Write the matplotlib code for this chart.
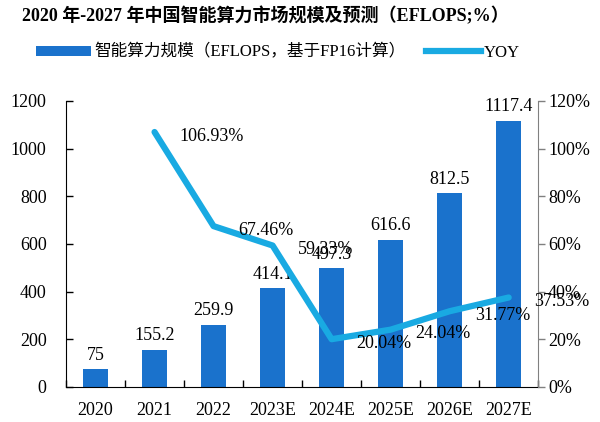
import matplotlib
matplotlib.use("Agg")
import matplotlib.pyplot as plt
from matplotlib.patches import Patch
from matplotlib.lines import Line2D
from matplotlib.ticker import FuncFormatter, FixedLocator
import numpy as np

plt.rcParams['font.family'] = ['Liberation Serif', 'Noto Sans CJK SC', 'DejaVu Sans']

years = ["2020", "2021", "2022", "2023E", "2024E", "2025E", "2026E", "2027E"]
scale = [75, 155.2, 259.9, 414.1, 497.3, 616.6, 812.5, 1117.4]
scale_labels = ["75", "155.2", "259.9", "414.1", "497.3", "616.6", "812.5", "1117.4"]
yoy = [None, 1.0693, 0.6746, 0.5933, 0.2004, 0.2404, 0.3177, 0.3753]
yoy_labels = ["", "106.93%", "67.46%", "59.33%", "20.04%", "24.04%", "31.77%", "37.53%"]

bar_color = "#1a72cc"
line_color = "#19aae2"

fig = plt.figure(figsize=(6, 4.22), dpi=100)
ax = fig.add_axes([0.11, 0.083, 0.787, 0.678])
ax2 = ax.twinx()

x = np.arange(len(years))
ax.bar(x, scale, width=0.42, color=bar_color, zorder=2)
for xi, v, lab in zip(x, scale, scale_labels):
    ax.annotate(lab, (xi, v), xytext=(0, 4), textcoords="offset points",
                ha="center", va="bottom", fontsize=13)

xs = [xi for xi, v in zip(x, yoy) if v is not None]
ys = [v for v in yoy if v is not None]
ax2.plot(xs, ys, color=line_color, lw=4.5, solid_capstyle="round", solid_joinstyle="round", zorder=3)
for xi, v, lab in zip(x, yoy, yoy_labels):
    if v is None:
        continue
    ax2.annotate(lab, (xi, v), xytext=(18, -3), textcoords="offset points",
                 ha="left", va="center", fontsize=13)

ax.set_xlim(-0.5, len(years) - 0.5)
ax.set_ylim(0, 1200)
ax.set_yticks(np.arange(0, 1201, 200))
ax2.set_ylim(0, 1.2)
ax2.set_yticks(np.arange(0, 1.21, 0.2))
ax2.yaxis.set_major_formatter(FuncFormatter(lambda v, p: f"{v*100:.0f}%"))

ax.set_xticks(x)
ax.set_xticklabels(years)
ax.xaxis.set_minor_locator(FixedLocator(np.arange(-0.5, len(years), 1.0)))
ax.tick_params(axis="x", which="major", length=0, pad=11, labelsize=13)
ax.tick_params(axis="x", which="minor", direction="in", length=5, width=1)
ax.tick_params(axis="y", direction="in", length=5, width=1, pad=14, labelsize=13)
ax2.tick_params(axis="y", direction="out", length=5, width=1, pad=2, labelsize=13, color="#808080")

for a in (ax, ax2):
    a.spines["top"].set_visible(False)
ax.spines["left"].set_color("black")
ax.spines["bottom"].set_color("black")
ax.spines["right"].set_visible(False)
ax2.spines["left"].set_visible(False)
ax2.spines["bottom"].set_visible(False)
ax2.spines["right"].set_color("#808080")

fig.text(0.037, 0.963, "2020 年-2027 年中国智能算力市场规模及预测（EFLOPS;%）",
         fontsize=13, fontweight="bold", ha="left", va="center")

handles = [Patch(facecolor=bar_color, edgecolor="none"),
           Line2D([0], [0], color=line_color, lw=4.5)]
labels = ["智能算力规模（EFLOPS，基于FP16计算）", "YOY"]
fig.legend(handles, labels, loc="center left", bbox_to_anchor=(0.035, 0.875), ncol=2,
           frameon=False, fontsize=12, handlelength=3.3, handleheight=0.6,
           handletextpad=0.2, columnspacing=1.2)

fig.savefig("out.png", dpi=100)
